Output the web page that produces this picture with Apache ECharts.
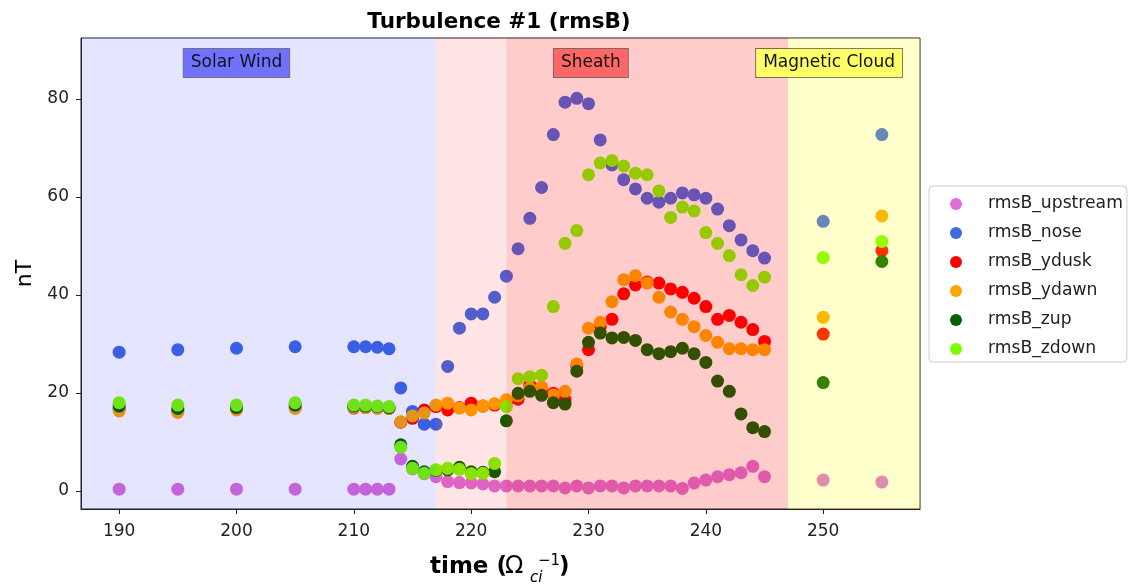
<!DOCTYPE html>
<html><head><meta charset="utf-8">
<script src="https://cdn.jsdelivr.net/npm/echarts@6/dist/echarts.min.js"></script>
<style>html,body{margin:0;padding:0;background:#fff}#c{width:1130px;height:584px}</style>
</head><body><div id="c"></div>
<script>
const times = [190,195,200,205,210,211,212,213,214,215,216,217,218,219,220,221,222,223,224,225,226,227,228,229,230,231,232,233,234,235,236,237,238,239,240,241,242,243,244,245,250,255];
const upstream = [0.35,0.35,0.35,0.35, 0.35,0.35,0.35,0.35, 6.5,4.5,3.5,2.9,1.9,1.7,1.6,1.4,1.0, 1.0,1.0,1.0,1.0,1.0,0.6,1.0,0.6,1.0,1.0,0.6,1.0,1.0,1.0,1.0,0.5,1.6,2.2,2.9,3.3,3.7,5.0,2.9, 2.2,1.8];
const nose = [28.3,28.8,29.1,29.4, 29.4,29.4,29.3,29.0, 21.0,16.2,13.6,13.6,25.4,33.2,36.1,36.1,39.5, 43.8,49.4,55.6,61.9,72.7,79.3,80.1,79.0,71.6,66.5,63.5,61.6,59.7,58.9,59.7,60.8,60.4,59.7,57.5,54.1,51.2,49.0,47.5, 55.0,72.7];
const ydusk = [16.7,16.3,16.8,17.0, 16.9,17.0,16.9,16.8, 14.0,14.8,16.5,17.2,16.5,17.0,17.9,17.3,17.5, 18.0,18.7,21.6,20.5,19.9,18.6,25.5,28.8,33.5,35.0,40.2,42.0,42.6,42.4,41.2,40.5,39.3,37.6,35.0,35.8,34.4,32.9,30.5, 32.0,49.0];
const ydawn = [16.3,16.0,16.5,16.8, 17.0,17.0,16.9,16.8, 14.1,15.3,15.9,17.5,17.9,16.9,16.5,17.3,17.8, 18.6,19.4,21.0,21.2,19.6,20.3,25.9,33.2,34.4,38.6,43.1,43.9,42.4,39.5,36.5,35.0,33.5,31.7,30.3,29.0,29.0,28.8,28.8, 35.4,56.1];
const zup = [17.3,16.8,17.0,17.5, 17.3,17.3,17.2,17.0, 9.4,5.0,3.9,4.2,4.3,4.8,3.9,3.8,3.9, 14.3,19.9,20.3,19.5,18.0,17.7,24.4,30.3,32.2,31.2,31.3,30.7,28.8,28.0,28.4,29.1,28.0,26.2,22.4,20.3,15.7,12.9,12.1, 22.1,46.8];
const zdown = [18.0,17.5,17.5,18.0, 17.5,17.5,17.3,17.2, 8.9,4.6,3.6,4.3,4.6,4.4,3.5,3.6,5.6, 17.2,22.9,23.3,23.6,37.6,50.5,53.1,64.5,66.9,67.4,66.3,64.8,64.5,61.2,55.8,57.9,57.1,52.7,50.5,48.0,44.1,41.9,43.6, 47.6,50.9];

const seriesNames = ['rmsB_upstream','rmsB_nose','rmsB_ydusk','rmsB_ydawn','rmsB_zup','rmsB_zdown'];
const seriesValues = [upstream, nose, ydusk, ydawn, zup, zdown];
const seriesColors = ['#DA70D6','#4169E1','#FF0000','#FFA500','#006400','#7CFC00'];

const xTicks = [190,200,210,220,230,240,250];
const yTicks = [0,20,40,60,80];
const xRange = [186.75, 258.25];
const yRange = [-3.7, 92.4];

// background regions (time limits) and their labels
const regionStarts = [186.75, 217, 223, 247];
const regionEnds = [217, 223, 247, 258.25];
const regionColors = ['rgba(0,0,255,0.1)','rgba(255,0,0,0.1)','rgba(255,0,0,0.2)','rgba(255,255,0,0.2)'];
const labelNames = ['Solar Wind','Sheath','Magnetic Cloud'];
const labelX = [200, 230.2, 250.5];
const labelY = 87.3;
const labelColors = ['#7171ff','#ff6666','#ffff66'];

const FF = 'DejaVu Sans';
const chart = echarts.init(document.getElementById('c'));

const series = seriesNames.map((n, k) => ({
  name: n, type: 'scatter', symbol: 'circle', symbolSize: 13, z: 2,
  itemStyle: { color: seriesColors[k], opacity: 1 },
  data: times.map((t, i) => [t, seriesValues[k][i]])
}));

series.push({
  name: 'regions', type: 'scatter', data: [], z: 5, silent: true,
  markArea: {
    silent: true, z: 5,
    data: regionStarts.map((s, i) => [
      { xAxis: s, itemStyle: { color: regionColors[i], borderWidth: 0 } },
      { xAxis: regionEnds[i] }
    ])
  },
  markPoint: {
    silent: true, z: 6, symbol: 'rect', symbolSize: 0,
    data: labelNames.map((n, i) => ({
      name: n, coord: [labelX[i], labelY],
      label: {
        show: true, position: 'inside', formatter: '{b}',
        fontFamily: FF, fontSize: 17, color: '#111',
        backgroundColor: labelColors[i], borderColor: 'rgba(0,0,0,0.5)', borderWidth: 1,
        padding: [6, 7, 5, 7]
      }
    }))
  }
});

chart.setOption({
  animation: false,
  title: {
    text: 'Turbulence #1 (rmsB)', left: 494, top: 6, textAlign: 'center',
    textStyle: { fontFamily: FF, fontSize: 21.5, fontWeight: 'bold', color: '#000' }
  },
  legend: {
    orient: 'vertical', left: 929, top: 186,
    padding: [9, 4, 4, 21], itemGap: 11, itemWidth: 54, itemHeight: 12,
    icon: 'circle', data: seriesNames,
    textStyle: { fontFamily: FF, fontSize: 17.2, color: '#222', lineHeight: 18 },
    borderColor: '#cccccc', borderWidth: 1, borderRadius: 4, backgroundColor: '#fff'
  },
  grid: { left: 81, right: 210, top: 38, bottom: 75, show: true, borderColor: '#222', borderWidth: 1, backgroundColor: 'transparent' },
  xAxis: {
    type: 'value', min: xRange[0], max: xRange[1],
    axisLine: { show: true, onZero: false, lineStyle: { color: '#222' } },
    axisTick: { show: true, length: 5, customValues: xTicks, lineStyle: { color: '#222' } },
    axisLabel: { customValues: xTicks, fontFamily: FF, fontSize: 17, color: '#222', margin: 14 },
    splitLine: { show: false }
  },
  yAxis: {
    type: 'value', min: yRange[0], max: yRange[1],
    name: 'nT', nameLocation: 'middle', nameGap: 37,
    nameTextStyle: { fontFamily: FF, fontSize: 22, color: '#000' },
    axisLine: { show: true, onZero: false, lineStyle: { color: '#222' } },
    axisTick: { show: true, length: 5, customValues: yTicks, lineStyle: { color: '#222' } },
    axisLabel: { customValues: yTicks, fontFamily: FF, fontSize: 17, color: '#222', margin: 12 },
    splitLine: { show: false }
  },
  graphic: [
    { type: 'text', x: 430, y: 567, style: { text: 'time (', font: 'bold 23px "DejaVu Sans"', fill: '#000', align: 'left', verticalAlign: 'middle' } },
    { type: 'text', x: 505, y: 567, style: { text: 'Ω', font: '24px "DejaVu Sans"', fill: '#000', align: 'left', verticalAlign: 'middle' } },
    { type: 'text', x: 530, y: 578, style: { text: 'ci', font: 'italic 15px "DejaVu Sans"', fill: '#000', align: 'left', verticalAlign: 'middle' } },
    { type: 'text', x: 538, y: 561, style: { text: '−1', font: '15px "DejaVu Sans"', fill: '#000', align: 'left', verticalAlign: 'middle' } },
    { type: 'text', x: 559, y: 567, style: { text: ')', font: 'bold 23px "DejaVu Sans"', fill: '#000', align: 'left', verticalAlign: 'middle' } }
  ],
  series: series
});
</script>
</body></html>
